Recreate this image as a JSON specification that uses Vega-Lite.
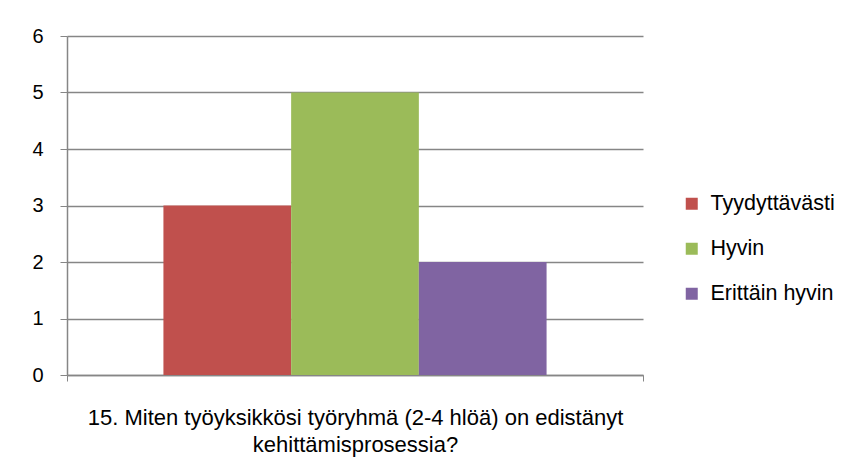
{
  "$schema": "https://vega.github.io/schema/vega-lite/v6.json",
  "autosize": {"type": "none"},
  "padding": {"left": 67, "top": 36, "right": 203, "bottom": 101},
  "width": 576,
  "height": 339,
  "background": "white",
  "data": {
    "values": [
      {"kysymys": "15", "vastaus": "Tyydyttävästi", "lkm": 3},
      {"kysymys": "15", "vastaus": "Hyvin", "lkm": 5},
      {"kysymys": "15", "vastaus": "Erittäin hyvin", "lkm": 2}
    ]
  },
  "mark": {"type": "bar"},
  "encoding": {
    "x": {
      "field": "kysymys",
      "type": "nominal",
      "scale": {"paddingInner": 0, "paddingOuter": 0},
      "axis": {
        "title": ["15. Miten työyksikkösi  työryhmä (2-4 hlöä) on edistänyt", "kehittämisprosessia?"],
        "labels": false,
        "bandPosition": 1,
        "tickExtra": true,
        "tickSize": 6,
        "tickColor": "#868686",
        "domainColor": "#868686",
        "domainWidth": 1.5,
        "titleFont": "Liberation Sans",
        "titleFontSize": 22,
        "titleFontWeight": "normal",
        "titleColor": "#000000",
        "titleLineHeight": 27,
        "titlePadding": 26
      }
    },
    "xOffset": {
      "field": "vastaus",
      "type": "nominal",
      "sort": ["Tyydyttävästi", "Hyvin", "Erittäin hyvin"],
      "scale": {"paddingInner": 0, "paddingOuter": 0.755}
    },
    "y": {
      "field": "lkm",
      "type": "quantitative",
      "scale": {"domain": [0, 6], "nice": false},
      "axis": {
        "title": null,
        "values": [0, 1, 2, 3, 4, 5, 6],
        "tickSize": 7,
        "tickColor": "#868686",
        "domainColor": "#868686",
        "domainWidth": 1.5,
        "grid": true,
        "gridColor": "#868686",
        "gridWidth": 1.5,
        "labelFont": "Liberation Sans",
        "labelFontSize": 20,
        "labelColor": "#000000",
        "labelPadding": 17
      }
    },
    "color": {
      "field": "vastaus",
      "type": "nominal",
      "sort": ["Tyydyttävästi", "Hyvin", "Erittäin hyvin"],
      "scale": {"range": ["#C0504D", "#9BBB59", "#8064A2"]},
      "legend": {
        "title": null,
        "orient": "none",
        "legendX": 614,
        "legendY": 157,
        "symbolType": "square",
        "symbolSize": 144,
        "symbolStrokeWidth": 0,
        "rowPadding": 22,
        "labelFont": "Liberation Sans",
        "labelFontSize": 21.5,
        "labelColor": "#000000",
        "labelOffset": 8
      }
    }
  },
  "config": {
    "view": {"stroke": null}
  }
}
